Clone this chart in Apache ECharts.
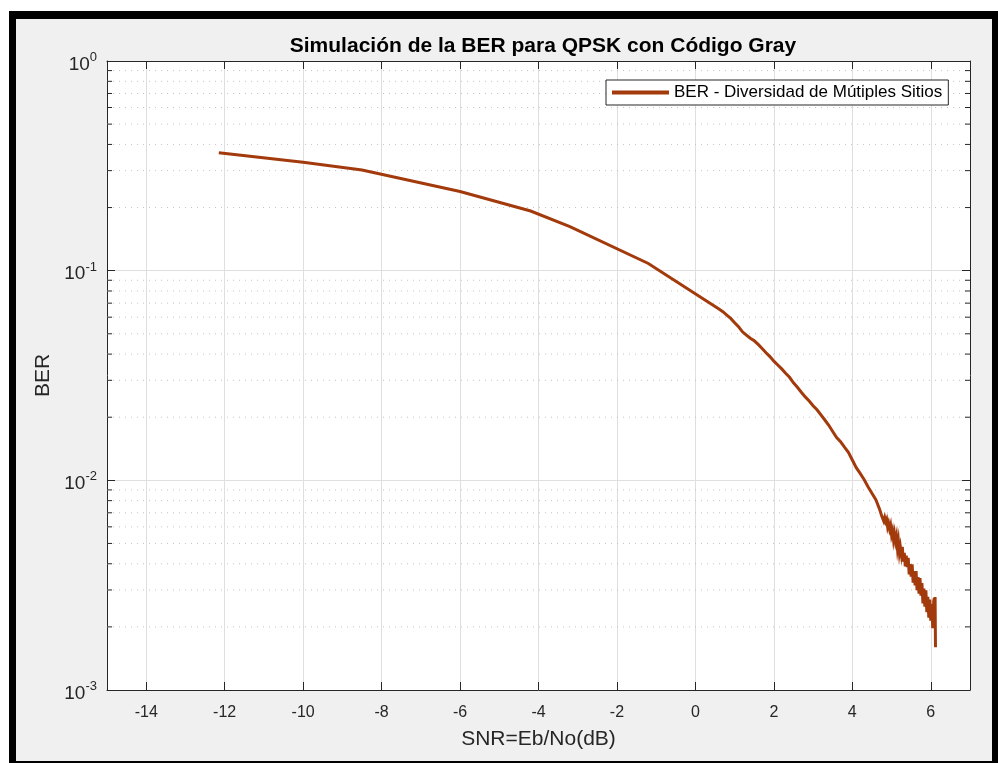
<!DOCTYPE html>
<html>
<head>
<meta charset="utf-8">
<script src="https://cdn.jsdelivr.net/npm/echarts@6/dist/echarts.min.js"></script>
<style>
  html, body { margin: 0; padding: 0; background: #ffffff; }
  #frame {
    position: absolute; left: 9px; top: 11px; width: 989px; height: 752px;
    box-sizing: border-box; background: #f0f0f0;
    border-left: 7px solid #000; border-top: 8px solid #000;
    border-right: 6px solid #000; border-bottom: 2px solid #000;
  }
  #chart { position: absolute; left: 0; top: 0; width: 998px; height: 763px; }
</style>
</head>
<body>
<div id="frame"></div>
<div id="chart"></div>
<script>
// Eb/No points (dB) of the simulated curve
const snrDb = [
  -12.15, -10.0, -8.5, -6.0, -4.2, -3.2, -1.2,
  0.6, 0.7, 0.8, 0.9, 1.0, 1.1, 1.2, 1.3, 1.4, 1.5, 1.6, 1.7, 1.8, 1.9,
  2.0, 2.1, 2.2, 2.3, 2.4, 2.5, 2.6, 2.7, 2.8, 2.9,
  3.0, 3.1, 3.2, 3.3, 3.4, 3.5, 3.6, 3.7, 3.8, 3.9,
  4.0, 4.1, 4.2, 4.3, 4.4, 4.5, 4.6, 4.7,
  4.725, 4.75, 4.775, 4.8, 4.825, 4.85, 4.875, 4.9, 4.925, 4.95, 4.975,
  5.0, 5.025, 5.05, 5.075, 5.1, 5.125, 5.15, 5.175, 5.2, 5.225, 5.25, 5.275,
  5.3, 5.325, 5.35, 5.375, 5.4, 5.425, 5.45, 5.475, 5.5, 5.525, 5.55, 5.575,
  5.6, 5.625, 5.65, 5.675, 5.7, 5.725, 5.75, 5.775, 5.8, 5.825, 5.85, 5.875,
  5.9, 5.925, 5.95, 5.975, 6.0, 6.025, 6.05, 6.075, 6.09, 6.1, 6.11, 6.12
];

// Measured bit error rate at each point
const berValues = [
  0.3653, 0.3287, 0.3021, 0.2385, 0.1926, 0.1622, 0.1082,
  0.0656, 0.0637, 0.0614, 0.0592, 0.0565, 0.0540, 0.0511, 0.0493, 0.0476, 0.0463, 0.0445, 0.0425, 0.0406, 0.0389,
  0.0370, 0.0355, 0.0340, 0.0324, 0.0310, 0.0292, 0.0278, 0.0263, 0.0250, 0.0239,
  0.0227, 0.0217, 0.0205, 0.0194, 0.0183, 0.0171, 0.0160, 0.0153, 0.0144, 0.0136,
  0.0125, 0.0115, 0.0108, 0.0101, 0.00933, 0.00867, 0.00809, 0.00724,
  0.00728, 0.00676, 0.00689, 0.00640, 0.00665, 0.00635, 0.00652, 0.00600, 0.00624, 0.00586, 0.00610,
  0.00550, 0.00575, 0.00521, 0.00557, 0.00513, 0.00542, 0.00475, 0.00513, 0.00451, 0.00481, 0.00443, 0.00482,
  0.00410, 0.00451, 0.00389, 0.00438, 0.00385, 0.00427, 0.00356, 0.00399, 0.00347, 0.00397, 0.00325, 0.00369,
  0.00315, 0.00369, 0.00299, 0.00346, 0.00288, 0.00342, 0.00282, 0.00324, 0.00259, 0.00305, 0.00250, 0.00299,
  0.00235, 0.00278, 0.00221, 0.00270, 0.00214, 0.00257, 0.00197, 0.00265, 0.00275, 0.00200, 0.00278, 0.00160
];

// x-axis tick positions
const xTicks = [-14, -12, -10, -8, -6, -4, -2, 0, 2, 4, 6];

// minor log ticks 2..9 within each decade
const decades = [0.001, 0.01, 0.1];
const minorSteps = [2, 3, 4, 5, 6, 7, 8, 9];

const seriesName = 'BER - Diversidad de Mútiples Sitios';
const titleText = 'Simulación de la BER para QPSK con Código Gray';
const xName = 'SNR=Eb/No(dB)';
const yName = 'BER';

const X_MIN = -15, X_MAX = 7, Y_MIN = 0.001, Y_MAX = 1;
const FONT = '"Liberation Sans", Arial, Helvetica, sans-serif';
const AXIS_COLOR = '#262626';
const LINE_COLOR = '#a33a0c';

const minorVals = [];
decades.forEach(d => minorSteps.forEach(m => minorVals.push([X_MIN, +(d * m).toPrecision(3)])));

const chart = echarts.init(document.getElementById('chart'), null, { renderer: 'canvas' });

const option = {
  animation: false,
  backgroundColor: 'transparent',
  textStyle: { fontFamily: FONT },
  title: {
    text: titleText,
    left: 538, top: 31, textAlign: 'center',
    textStyle: { fontFamily: FONT, fontSize: 21, fontWeight: 'bold', color: '#000' }
  },
  legend: {
    data: [seriesName],
    left: 606, top: 80,
    padding: [4, 6, 4, 6],
    backgroundColor: '#fff',
    borderColor: '#262626', borderWidth: 1, borderRadius: 0,
    icon: 'rect', itemWidth: 57, itemHeight: 4,
    textStyle: { fontFamily: FONT, fontSize: 17, color: '#000' }
  },
  grid: {
    left: 107, right: 28, top: 61, bottom: 73,
    show: true, backgroundColor: '#fff', borderWidth: 0, containLabel: false
  },
  xAxis: [
    {
      type: 'value', position: 'bottom', min: X_MIN, max: X_MAX,
      name: xName, nameLocation: 'middle', nameGap: 39,
      nameTextStyle: { fontFamily: FONT, fontSize: 21, color: AXIS_COLOR },
      axisLine: { show: true, onZero: false, lineStyle: { color: AXIS_COLOR, width: 1 } },
      axisTick: { show: true, inside: true, length: 8, customValues: xTicks, lineStyle: { color: AXIS_COLOR } },
      axisLabel: { show: true, customValues: xTicks, margin: 15, fontFamily: FONT, fontSize: 16, color: AXIS_COLOR },
      splitLine: { show: true, lineStyle: { color: '#dfdfdf', width: 1 } }
    },
    {
      type: 'value', position: 'top', min: X_MIN, max: X_MAX,
      axisLine: { show: true, onZero: false, lineStyle: { color: AXIS_COLOR, width: 1 } },
      axisTick: { show: true, inside: true, length: 8, customValues: xTicks, lineStyle: { color: AXIS_COLOR } },
      axisLabel: { show: false },
      splitLine: { show: false }
    }
  ],
  yAxis: [
    {
      type: 'log', logBase: 10, position: 'left', min: Y_MIN, max: Y_MAX,
      name: yName, nameLocation: 'middle', nameGap: 51, nameRotate: 90,
      nameTextStyle: { fontFamily: FONT, fontSize: 21, color: AXIS_COLOR },
      axisLine: { show: true, onZero: false, lineStyle: { color: AXIS_COLOR, width: 1 } },
      axisTick: { show: true, inside: true, length: 8, lineStyle: { color: AXIS_COLOR } },
      axisLabel: {
        show: true, margin: 10,
        formatter: v => '{b|10}{s|' + Math.round(Math.log10(v)) + '}',
        rich: {
          b: { fontFamily: FONT, fontSize: 19, color: AXIS_COLOR, lineHeight: 26, verticalAlign: 'bottom' },
          s: { fontFamily: FONT, fontSize: 13, color: AXIS_COLOR, lineHeight: 26, verticalAlign: 'top', padding: [3, 0, 0, 0] }
        }
      },
      splitLine: { show: true, lineStyle: { color: '#dfdfdf', width: 1 } }
    },
    {
      type: 'log', logBase: 10, position: 'right', min: Y_MIN, max: Y_MAX,
      axisLine: { show: true, onZero: false, lineStyle: { color: AXIS_COLOR, width: 1 } },
      axisTick: { show: true, inside: true, length: 8, lineStyle: { color: AXIS_COLOR } },
      axisLabel: { show: false },
      splitLine: { show: false }
    }
  ],
  series: [
    {
      // dotted minor grid lines plus short inner ticks on both vertical edges
      type: 'custom',
      name: 'minor',
      xAxisIndex: 0, yAxisIndex: 0,
      z: 1, silent: true, clip: false,
      encode: { x: 0, y: 1 },
      data: minorVals,
      renderItem: (params, api) => {
        const v = api.value(1);
        const a = api.coord([X_MIN, v]);
        const b = api.coord([X_MAX, v]);
        return {
          type: 'group',
          children: [
            { type: 'line', shape: { x1: a[0], y1: a[1], x2: b[0], y2: b[1] },
              style: { stroke: '#c4c4c4', lineWidth: 1, lineDash: [1, 5] } },
            { type: 'line', shape: { x1: a[0], y1: a[1], x2: a[0] + 5, y2: a[1] },
              style: { stroke: AXIS_COLOR, lineWidth: 1 } },
            { type: 'line', shape: { x1: b[0] - 5, y1: b[1], x2: b[0], y2: b[1] },
              style: { stroke: AXIS_COLOR, lineWidth: 1 } }
          ]
        };
      }
    },
    {
      type: 'line',
      name: seriesName,
      xAxisIndex: 0, yAxisIndex: 0,
      z: 3,
      data: snrDb.map((x, i) => [x, berValues[i]]),
      showSymbol: false, symbol: 'none', smooth: false,
      color: LINE_COLOR,
      lineStyle: { color: LINE_COLOR, width: 3, join: 'miter' }
    }
  ]
};

chart.setOption(option);
</script>
</body>
</html>
